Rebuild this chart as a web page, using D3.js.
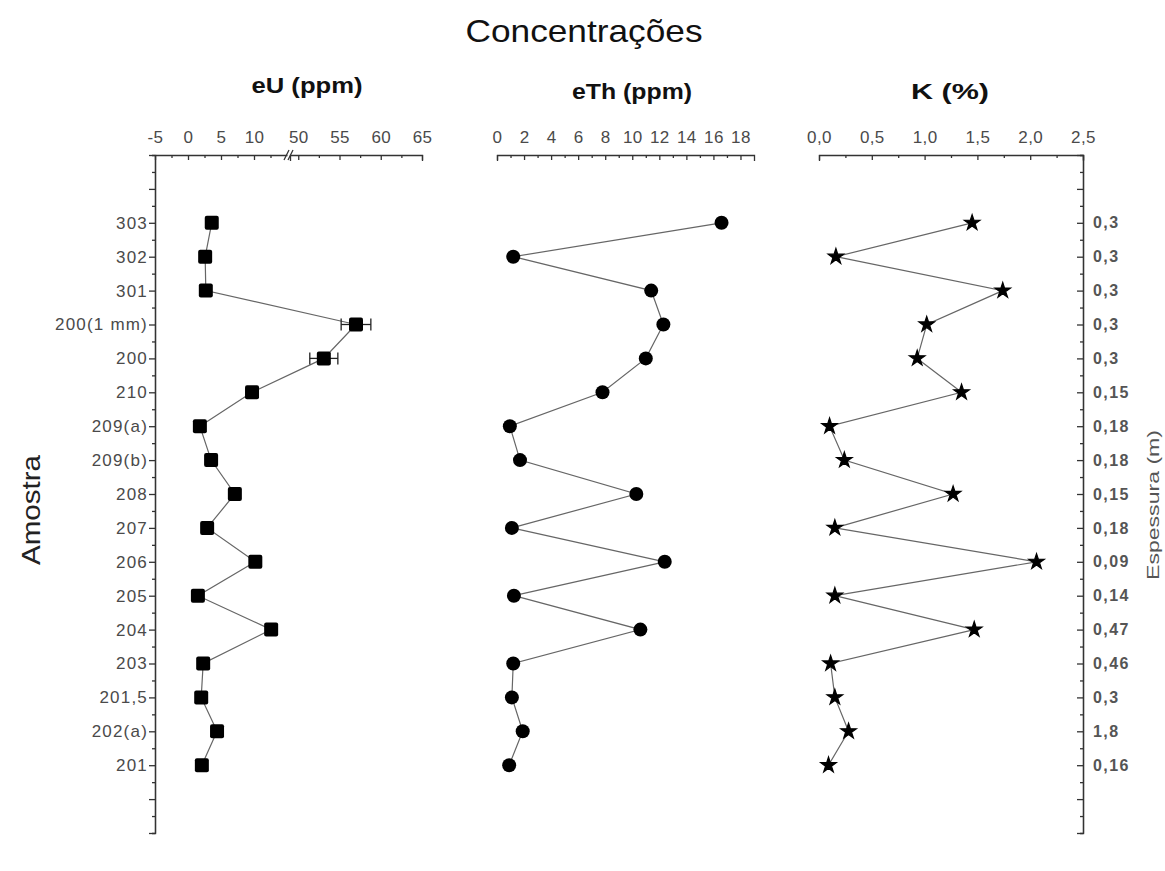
<!DOCTYPE html>
<html>
<head>
<meta charset="utf-8">
<script src="https://cdn.jsdelivr.net/npm/d3@7"></script>
<style>
  html, body { margin: 0; padding: 0; background: #fff; }
  svg text { font-family: "Liberation Sans", Arial, sans-serif; }
</style>
</head>
<body>
<svg id="chart" width="1165" height="871"></svg>
<script>
// ---------------- DATA ----------------
const samples = ["303","302","301","200(1 mm)","200","210","209(a)","209(b)","208","207","206","205","204","203","201,5","202(a)","201"];
const thickness = ["0,3","0,3","0,3","0,3","0,3","0,15","0,18","0,18","0,15","0,18","0,09","0,14","0,47","0,46","0,3","1,8","0,16"];
const eU    = [3.6, 2.6, 2.7, 57.0, 53.1, 9.7, 1.8, 3.5, 7.1, 2.9, 10.2, 1.5, 12.6, 2.3, 2.0, 4.4, 2.1];
const eUerr = [0, 0, 0, 1.8, 1.7, 0, 0, 0, 0, 0, 0, 0, 0, 0, 0, 0, 0];
const eTh   = [16.6, 1.2, 11.4, 12.3, 11.0, 7.8, 0.95, 1.7, 10.3, 1.1, 12.4, 1.25, 10.6, 1.2, 1.1, 1.9, 0.9];
const K     = [1.45, 0.16, 1.74, 1.02, 0.93, 1.35, 0.10, 0.24, 1.27, 0.15, 2.06, 0.15, 1.47, 0.11, 0.15, 0.28, 0.09];
const eUticksLow  = [-5, 0, 5, 10];
const eUticksHigh = [50, 55, 60, 65];
const eThTicks = [0, 2, 4, 6, 8, 10, 12, 14, 16, 18];
const kTicks   = [0, 0.5, 1.0, 1.5, 2.0, 2.5];

// ---------------- SETUP ----------------
const svg = d3.select("#chart");
const TOP = 155, BOTTOM = 833;
const y = d3.scaleLinear().domain([-2, 18]).range([TOP, BOTTOM]);
const idx = d3.range(samples.length);

const xLow  = d3.scaleLinear().domain([-5, 15]).range([155, 287]);
const xHigh = d3.scaleLinear().domain([49, 65]).range([290, 422]);
const xU = v => v < 30 ? xLow(v) : xHigh(v);
const xTh = d3.scaleLinear().domain([0, 19]).range([497, 754]);
const xK  = d3.scaleLinear().domain([0, 2.5]).range([819, 1083]);

const labelColor = "#4a4a4a";
const axisColor = "#333";

function styleAxis(g, fs) {
  g.selectAll(".domain").attr("stroke", axisColor).attr("stroke-width", 1.3);
  g.selectAll(".tick line").attr("stroke", axisColor).attr("stroke-width", 1.3);
  g.selectAll(".tick text").attr("fill", labelColor).style("font-size", (fs || 17) + "px");
}

// ---------------- TITLES ----------------
function title(x, yy, size, len, txt, bold) {
  svg.append("text").attr("x", x).attr("y", yy).attr("text-anchor", "middle")
    .style("font-size", size + "px").style("font-weight", bold ? "bold" : "normal")
    .attr("fill", "#111")
    .attr("textLength", len).attr("lengthAdjust", "spacingAndGlyphs")
    .text(txt);
}
title(584, 42, 32, 237, "Concentrações", false);
title(307, 93, 22, 111, "eU (ppm)", true);
title(632, 99, 22, 120, "eTh (ppm)", true);
title(950, 99, 22, 78, "K (%)", true);

svg.append("text").attr("transform", "translate(40,510) rotate(-90)").attr("text-anchor", "middle")
  .style("font-size", "26px").attr("fill", "#222")
  .attr("textLength", 110).attr("lengthAdjust", "spacingAndGlyphs").text("Amostra");
svg.append("text").attr("transform", "translate(1159,505) rotate(-90)").attr("text-anchor", "middle")
  .style("font-size", "17px").attr("fill", "#555")
  .attr("textLength", 150).attr("lengthAdjust", "spacingAndGlyphs").text("Espessura (m)");

// ---------------- LEFT AXIS ----------------
const halfSteps = d3.range(-2, 18.001, 0.5).filter(v => v % 1 !== 0);
const fullSteps = d3.range(-2, 18.001, 1);
const gLminor = svg.append("g").attr("transform", "translate(155,0)")
  .call(d3.axisLeft(y).tickValues(halfSteps).tickSize(3).tickFormat(""));
styleAxis(gLminor);
const gL = svg.append("g").attr("transform", "translate(155,0)")
  .call(d3.axisLeft(y).tickValues(fullSteps).tickSize(6).tickSizeOuter(0).tickPadding(1)
    .tickFormat(v => (v >= 0 && v < samples.length) ? samples[v] : ""));
styleAxis(gL);
gL.selectAll(".tick text").style("letter-spacing", "1.2px");

// ---------------- RIGHT AXIS ----------------
const gRminor = svg.append("g").attr("transform", "translate(1083,0)")
  .call(d3.axisRight(y).tickValues(halfSteps).tickSize(-3).tickFormat(""));
styleAxis(gRminor);
const gR = svg.append("g").attr("transform", "translate(1083,0)")
  .call(d3.axisRight(y).tickValues(fullSteps).tickSize(-6).tickSizeOuter(0).tickPadding(10)
    .tickFormat(v => (v >= 0 && v < thickness.length) ? thickness[v] : ""));
styleAxis(gR, 16);
gR.selectAll(".tick text").style("font-weight", "bold").attr("fill", "#555").style("letter-spacing", "1.4px");

// ---------------- TOP AXES ----------------
function topAxis(scale, majors, minors, fmt, outer) {
  const gm = svg.append("g").attr("transform", `translate(0,${TOP})`)
    .call(d3.axisTop(scale).tickValues(minors).tickSize(-3).tickSizeOuter(outer ? -6 : 0).tickFormat(""));
  styleAxis(gm);
  const g = svg.append("g").attr("transform", `translate(0,${TOP})`)
    .call(d3.axisTop(scale).tickValues(majors).tickSize(-5).tickSizeOuter(0).tickPadding(12).tickFormat(fmt));
  styleAxis(g);
  g.select(".domain").remove();
  g.selectAll(".tick text").style("letter-spacing", "0.4px");
  return g;
}
const intFmt = v => String(v);
// eU broken axis
topAxis(xLow, eUticksLow, [-2.5, 2.5, 7.5, 12.5], intFmt, false);
topAxis(xHigh, eUticksHigh, [52.5, 57.5, 62.5], intFmt, true);
// break marks
svg.append("g").selectAll("line").data([0, 4]).join("line")
  .attr("x1", d => 284 + d).attr("x2", d => 289 + d)
  .attr("y1", TOP + 5).attr("y2", TOP - 5)
  .attr("stroke", axisColor).attr("stroke-width", 1.2);

const fmtComma = d3.format(".1f");
topAxis(xTh, eThTicks, d3.range(1, 19, 2), intFmt, true);
topAxis(xK, kTicks, [0.25, 0.75, 1.25, 1.75, 2.25], v => fmtComma(v).replace(".", ","), true);

// ---------------- SERIES ----------------
function drawLine(xf, vals) {
  svg.append("path")
    .datum(idx)
    .attr("fill", "none").attr("stroke", "#666").attr("stroke-width", 1.2)
    .attr("d", d3.line().x(i => xf(vals[i])).y(i => y(i)));
}
drawLine(xU, eU);
drawLine(xTh, eTh);
drawLine(xK, K);

// eU error bars
const errG = svg.append("g").attr("stroke", "#222").attr("stroke-width", 1.3);
idx.filter(i => eUerr[i] > 0).forEach(i => {
  const x1 = xU(eU[i] - eUerr[i]), x2 = xU(eU[i] + eUerr[i]), yy = y(i);
  errG.append("line").attr("x1", x1).attr("x2", x2).attr("y1", yy).attr("y2", yy);
  errG.append("line").attr("x1", x1).attr("x2", x1).attr("y1", yy - 6).attr("y2", yy + 6);
  errG.append("line").attr("x1", x2).attr("x2", x2).attr("y1", yy - 6).attr("y2", yy + 6);
});

// eU squares
svg.append("g").selectAll("rect").data(idx).join("rect")
  .attr("x", i => xU(eU[i]) - 7).attr("y", i => y(i) - 7)
  .attr("width", 14).attr("height", 14).attr("rx", 2)
  .attr("fill", "#000");

// eTh circles
svg.append("g").selectAll("circle").data(idx).join("circle")
  .attr("cx", i => xTh(eTh[i])).attr("cy", i => y(i)).attr("r", 7)
  .attr("fill", "#000");

// K stars
svg.append("g").selectAll("path").data(idx).join("path")
  .attr("transform", i => `translate(${xK(K[i])},${y(i)})`)
  .attr("d", d3.symbol().type(d3.symbolStar).size(75))
  .attr("fill", "#000").attr("stroke", "#000").attr("stroke-width", 1.2);
</script>
</body>
</html>
